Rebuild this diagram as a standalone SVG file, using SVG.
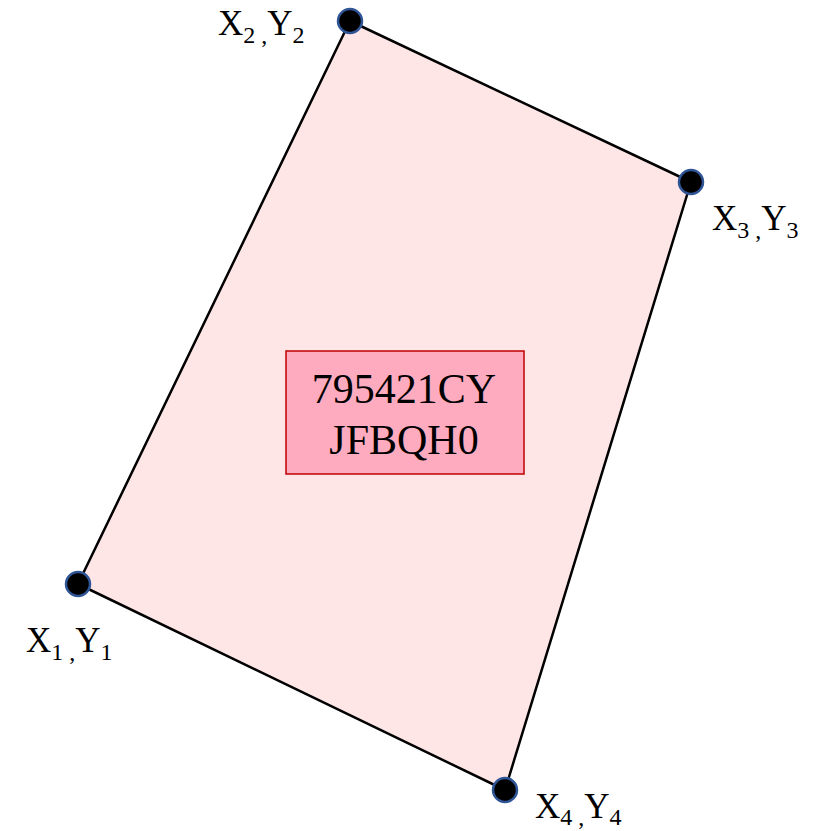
<svg xmlns="http://www.w3.org/2000/svg" width="823" height="831" viewBox="0 0 823 831">
<style>
.lbl{font-family:"Liberation Serif",serif;font-size:35px;fill:#000}
.sub{font-size:24px}
.dot{fill:#000;stroke:#2F5597;stroke-width:2.5}
.box{font-family:"Liberation Serif",serif;font-size:42px;fill:#000;text-anchor:middle}
</style>
<rect width="823" height="831" fill="#fff"/>
<g id="connectors">
<polygon points="78,584 350,21 691,182 505,790" fill="#FFE6E6" stroke="#000" stroke-width="2.5" stroke-linejoin="round"/>
</g>
<g id="center">
<rect x="286" y="351" width="238" height="123" fill="#FFABBF" stroke="#C00000" stroke-width="1.5"/>
<text class="box" x="404" y="403">795421CY</text>
<text class="box" x="404" y="454">JFBQH0</text>
</g>
<g id="p1">
<circle class="dot" cx="78" cy="584" r="12"/>
<text class="lbl" x="26" y="652">X<tspan class="sub" dy="8">1 ,</tspan><tspan dy="-8">Y</tspan><tspan class="sub" dy="8">1</tspan></text>
</g>
<g id="p2">
<circle class="dot" cx="350" cy="21" r="12"/>
<text class="lbl" x="218" y="35">X<tspan class="sub" dy="8">2 ,</tspan><tspan dy="-8">Y</tspan><tspan class="sub" dy="8">2</tspan></text>
</g>
<g id="p3">
<circle class="dot" cx="691" cy="182" r="12"/>
<text class="lbl" x="712" y="230">X<tspan class="sub" dy="8">3 ,</tspan><tspan dy="-8">Y</tspan><tspan class="sub" dy="8">3</tspan></text>
</g>
<g id="p4">
<circle class="dot" cx="505" cy="790" r="12"/>
<text class="lbl" x="535" y="818">X<tspan class="sub" dy="7">4 ,</tspan><tspan dy="-7">Y</tspan><tspan class="sub" dy="7">4</tspan></text>
</g>
</svg>
